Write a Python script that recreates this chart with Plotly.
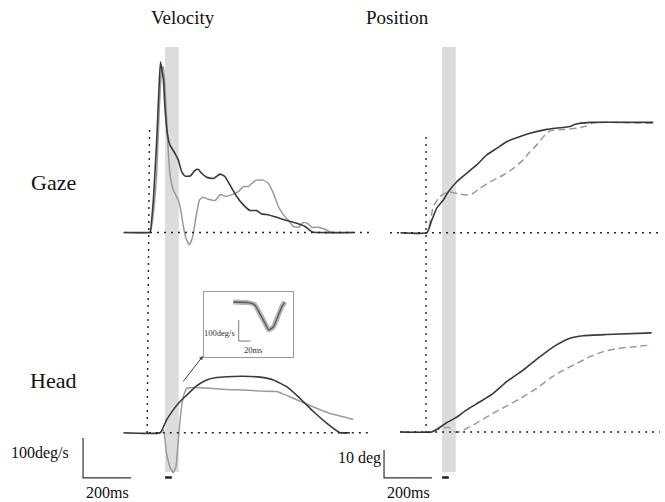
import plotly.graph_objects as go

# ---------------- data (ms, deg/s, deg) ----------------
gaze_vel_t_dark = [-110, -7, 0, 14, 28, 39, 44, 56, 62, 72, 83, 104, 118, 132, 146, 167, 187, 201, 215, 236,
                   264, 292, 312, 333, 361, 389, 417, 444, 465, 486, 528, 569, 611, 646, 674, 694, 847]
gaze_vel_dark = [0, 0, 0, 81, 231, 381, 426, 381, 315, 248, 219, 198, 181, 152, 141, 141, 155, 158, 148, 138,
                 135, 146, 140, 119, 90, 69, 55, 55, 46, 45, 38, 30, 23, 15, 2, 0, 0]

gaze_vel_t_light = [-110, 0, 14, 28, 39, 49, 56, 67, 76, 83, 97, 118, 128, 139, 150, 164, 178, 192, 206, 219,
                    243, 271, 294, 312, 340, 368, 389, 410, 424, 444, 472, 493, 514, 535, 556, 576, 597, 618, 639, 656,
                    674, 701, 729, 757, 847]
gaze_vel_light = [0, 0, 48, 148, 315, 406, 415, 315, 206, 148, 106, 81, 56, 15, -15, -31, -10, 40, 81, 88,
                  83, 80, 95, 91, 94, 102, 115, 115, 123, 131, 131, 123, 98, 65, 44, 31, 15, 13, 25, 23,
                  13, 13, 8, 0, 0]

head_vel_t_dark = [-110, 42, 69, 97, 125, 153, 194, 236, 278, 319, 389, 458, 514, 569, 625, 681, 736, 792, 833]
head_vel_dark = [0, 0, 32, 57, 78, 94, 117, 132, 138, 140, 141, 139, 132, 115, 86, 53, 24, 0, 0]

head_vel_t_light = [-110, 44, 56, 69, 83, 97, 108, 118, 128, 139, 153, 194, 250, 319, 389, 458, 528, 583, 639, 694,
                    750, 806, 847]
head_vel_light = [0, 0, 7, -52, -85, -100, -85, -18, 48, 90, 111, 113, 111, 108, 107, 104, 103, 90, 75, 61,
                  48, 40, 33]

gaze_pos_t_dark = [-110, 0, 20, 40, 68, 89, 124, 165, 207, 249, 290, 332, 374, 429, 499, 568, 596, 617, 679, 943]
gaze_pos_dark = [0, 0, 4.5, 8.7, 11.7, 14.6, 18.2, 21.2, 24.2, 27.8, 30.1, 32.5, 33.9, 35.5, 36.9, 37.6, 37.9,
                 38.7, 39.4, 39.4]

gaze_pos_t_light = [-110, 0, 26, 54, 89, 110, 138, 165, 193, 221, 263, 318, 360, 401, 429, 457, 485, 513, 568, 624,
                    665, 693, 943]
gaze_pos_light = [0, 0, 9.3, 12.9, 14.6, 14.3, 13.8, 13.5, 14.1, 15.9, 18.2, 20.6, 23, 26, 28.9, 31.3, 34.3, 36.4,
                  36.9, 37.3, 38.1, 39.3, 39.1]

head_pos_t_dark = [-110, 19, 47, 82, 124, 165, 221, 276, 332, 401, 471, 540, 596, 651, 749, 936]
head_pos_dark = [0, 0, 1.3, 3.3, 5.3, 7.9, 10.8, 13.8, 18, 22.1, 26.9, 31.1, 33.5, 34.4, 34.8, 35.4]

head_pos_t_light = [-110, 19, 47, 89, 117, 138, 193, 263, 332, 401, 457, 513, 568, 624, 679, 735, 790, 846, 936]
head_pos_light = [0, 0, 1.0, 1.7, 0, 0.1, 2.5, 6.1, 9.3, 12.6, 15.6, 19.2, 22.1, 24.5, 26.9, 28.7, 29.8, 30.3, 31.1]

inset_t = [0, 25, 36, 44, 53, 59, 67, 74, 81, 86]
inset_v = [0, -3, -14, -54, -102, -133, -118, -70, -22, 0]

band_t = [63, 120]          # grey perturbation window (ms)
mark_t = [63, 91]           # short black bar below the window
vel_bar = [200, 100]        # scale bar: 200 ms, 100 deg/s
pos_bar = [200, 10]         # scale bar: 200 ms, 10 deg
inset_bar = [20, 100]       # inset scale bar: 20 ms, 100 deg/s

# ---------------- layout geometry (pixels) ----------------
W, H = 665, 502
L_X0, R_X0 = 150, 427           # pixel of t = 0
S_MS = 0.24                     # px per ms
S_VEL = 0.4                     # px per deg/s
S_POS = 2.8                     # px per deg
GV_BASE, HV_BASE, GP_BASE, HP_BASE = 232.5, 432.7, 232.7, 432.0
INSET_BOX = (204, 292, 293, 357)   # x0, y0, x1, y1
IN_X0, IN_Y0, IN_SX, IN_SY = 233.3, 302.0, 0.6, 0.21

DARK = '#3a3a3a'
LIGHT = '#9a9a9a'
FONT = 'Liberation Serif'


def px(x):
    return x / W


def py(y):
    return 1 - y / H


def xrange_(x0, s, a=0, b=W):
    return [(a - x0) / s, (b - x0) / s]


def yrange_(base, s, top=0, bottom=H):
    return [(base - bottom) / s, (base - top) / s]


fig = go.Figure()


def line(x, y, xa, ya, color, width=1.6, dash=None):
    fig.add_trace(go.Scatter(x=x, y=y, xaxis=xa, yaxis=ya, mode='lines',
                             line=dict(color=color, width=width, dash=dash, shape='spline', smoothing=0.4),
                             hoverinfo='skip', showlegend=False))


line(gaze_vel_t_light, gaze_vel_light, 'x', 'y', LIGHT, 1.5)
line(gaze_vel_t_dark, gaze_vel_dark, 'x', 'y', DARK, 1.6)
line(head_vel_t_light, head_vel_light, 'x', 'y2', LIGHT, 1.5)
line(head_vel_t_dark, head_vel_dark, 'x', 'y2', DARK, 1.6)
line(gaze_pos_t_light, gaze_pos_light, 'x2', 'y3', LIGHT, 1.5, '7px,4px')
line(gaze_pos_t_dark, gaze_pos_dark, 'x2', 'y3', DARK, 1.6)
line(head_pos_t_light, head_pos_light, 'x2', 'y4', LIGHT, 1.5, '7px,4px')
line(head_pos_t_dark, head_pos_dark, 'x2', 'y4', DARK, 1.6)
line(inset_t, inset_v, 'x3', 'y5', '#b4b4b4', 5)
line(inset_t, inset_v, 'x3', 'y5', '#5a5a5a', 1.3)

ax_off = dict(visible=False, fixedrange=True, domain=[0, 1], showgrid=False, zeroline=False)
bx0, by0, bx1, by1 = INSET_BOX
fig.update_layout(
    width=W, height=H, margin=dict(l=0, r=0, t=0, b=0), autosize=False,
    paper_bgcolor='white', plot_bgcolor='rgba(0,0,0,0)',
    xaxis=dict(ax_off, range=xrange_(L_X0, S_MS), anchor='y'),
    xaxis2=dict(ax_off, range=xrange_(R_X0, S_MS), anchor='y3'),
    yaxis=dict(ax_off, range=yrange_(GV_BASE, S_VEL), anchor='x'),
    yaxis2=dict(ax_off, range=yrange_(HV_BASE, S_VEL), anchor='x'),
    yaxis3=dict(ax_off, range=yrange_(GP_BASE, S_POS), anchor='x2'),
    yaxis4=dict(ax_off, range=yrange_(HP_BASE, S_POS), anchor='x2'),
    xaxis3=dict(domain=[px(bx0), px(bx1)], range=xrange_(IN_X0, IN_SX, bx0, bx1), anchor='y5',
                showline=True, mirror=True, linecolor='#9a9a9a', linewidth=1, ticks='',
                showticklabels=False, showgrid=False, zeroline=False, fixedrange=True),
    yaxis5=dict(domain=[py(by1), py(by0)], range=yrange_(IN_Y0, IN_SY, by0, by1), anchor='x3',
                showline=True, mirror=True, linecolor='#9a9a9a', linewidth=1, ticks='',
                showticklabels=False, showgrid=False, zeroline=False, fixedrange=True),
    font=dict(family=FONT, color='#111'),
)

shapes = []
# grey windows spanning both rows
for xr in ('x', 'x2'):
    shapes.append(dict(type='rect', xref=xr, yref='paper', x0=band_t[0], x1=band_t[1],
                       y0=py(472), y1=py(47), fillcolor='#dcdcdc', line=dict(width=0), layer='below'))
    shapes.append(dict(type='line', xref=xr, yref='paper', x0=mark_t[0], x1=mark_t[1],
                       y0=py(477.5), y1=py(477.5), line=dict(color='#222', width=2.5)))

DOT = '2px,5px'
# vertical dotted onset lines
shapes.append(dict(type='line', xref='x', yref='paper', x0=-2, x1=-12, y0=py(130), y1=py(435),
                   line=dict(color='#222', width=1.4, dash=DOT)))
shapes.append(dict(type='line', xref='x2', yref='paper', x0=-4, x1=-4, y0=py(137), y1=py(433),
                   line=dict(color='#222', width=1.4, dash=DOT)))
# horizontal dotted zero lines
for xr, yr, a, b in (('x', 'y', 0, 925), ('x', 'y2', -5, 925), ('x2', 'y3', -154, 971), ('x2', 'y4', -112, 971)):
    shapes.append(dict(type='line', xref=xr, yref=yr, x0=a, x1=b, y0=0, y1=0,
                       line=dict(color='#222', width=1.4, dash=DOT)))

# scale bars
vx, vy = -279, -113
shapes.append(dict(type='path', xref='x', yref='y2',
                   path=f'M {vx},{vy + vel_bar[1]} L {vx},{vy} L {vx + vel_bar[0]},{vy}',
                   line=dict(color='#333', width=1.2)))
qx, qy = -179, -16.4
shapes.append(dict(type='path', xref='x2', yref='y4',
                   path=f'M {qx},{qy + pos_bar[1]} L {qx},{qy} L {qx + pos_bar[0]},{qy}',
                   line=dict(color='#333', width=1.2)))
ix, iy = 9, -186
shapes.append(dict(type='path', xref='x3', yref='y5',
                   path=f'M {ix},{iy + inset_bar[1]} L {ix},{iy} L {ix + inset_bar[0]},{iy}',
                   line=dict(color='#555', width=0.8)))
fig.update_layout(shapes=shapes)


def label(text, x, y, size, xanchor='center', color='#111'):
    fig.add_annotation(text=text, x=px(x), y=py(y), xref='paper', yref='paper', showarrow=False,
                       xanchor=xanchor, yanchor='middle', font=dict(family=FONT, size=size, color=color))


label('Velocity', 183, 18, 19)
label('Position', 397, 18, 19)
label('Gaze', 53, 182, 22)
label('Head', 53, 380, 22)
label('100deg/s', 71, 453, 16, 'right')
label('200ms', 107, 492, 16)
label('10 deg', 383, 458, 16, 'right')
label('200ms', 408, 492, 16)
label('100deg/s', 237, 333, 8.5, 'right', '#333333')
label('20ms', 253, 350, 8.5, 'center', '#333333')

# arrow pointing to the inset
fig.add_annotation(x=221, y=192, xref='x', yref='y2', ax=-21, ay=27, text='', showarrow=True,
                   arrowhead=2, arrowsize=0.8, arrowwidth=1, arrowcolor='#444', standoff=0)

fig.write_html('out.html', config={'displayModeBar': False, 'staticPlot': True},
               post_script="document.body.style.margin='0';document.body.style.overflow='hidden';")
